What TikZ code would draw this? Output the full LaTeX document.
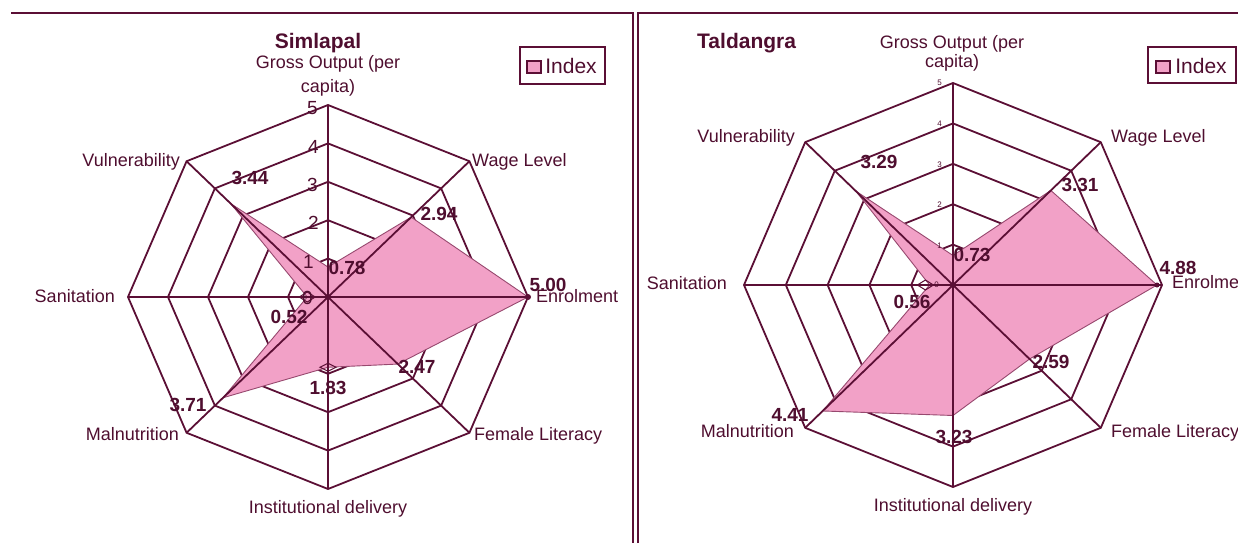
\documentclass[tikz,border=0pt]{standalone}
\usepackage{fontspec}
\setmainfont{Liberation Sans}
\definecolor{ln}{HTML}{5B0F35}
\definecolor{tx}{HTML}{4F0E2F}
\definecolor{pk}{HTML}{F2A1C7}
\tikzset{
  ringline/.style={draw=ln, line width=1.8pt, line join=miter},
  spoke/.style={draw=ln, line width=1.8pt},
  datafill/.style={fill=pk, draw=ln!60!pk, line width=0.9pt, line join=miter},
  mk/.style={draw=ln, line width=1pt},
  framel/.style={draw=ln, line width=2pt},
  catlbl/.style={text=tx, font=\fontsize{18}{20}\selectfont, inner sep=0pt, text height=13pt, text depth=4pt},
  vallbl/.style={text=tx, font=\bfseries\fontsize{19}{21}\selectfont, inner sep=0pt},
  titlelbl/.style={text=tx, font=\bfseries\fontsize{21}{23}\selectfont, inner sep=0pt, text height=15pt, text depth=4pt},
  ticklbl/.style={text=tx, font=\fontsize{19}{20}\selectfont, inner sep=0pt},
  tinylbl/.style={text=tx, font=\fontsize{8}{9}\selectfont, inner sep=0pt},
  legbox/.style={draw=ln, line width=2pt},
  legkey/.style={fill=pk, draw=ln, line width=1.5pt},
  leglbl/.style={text=tx, font=\fontsize{21}{23}\selectfont, inner sep=0pt},
}
\begin{document}
\begin{tikzpicture}[x=1pt,y=-1pt]
\useasboundingbox (0,0) rectangle (1238,543);
% panel frames
\draw[framel] (11,13) -- (633,13) -- (633,543);
\draw[framel] (638,543) -- (638,13) -- (1238,13);

% ---------- Left chart: Simlapal ----------
\begin{scope}[shift={(328,297)}, x=40pt, y=38.4pt]
  \foreach \r in {1,...,5}
    \draw[ringline] (90:\r) -- (45:\r) -- (0:\r) -- (-45:\r) -- (-90:\r) -- (-135:\r) -- (180:\r) -- (135:\r) -- cycle;
  \filldraw[datafill] (90:0.78) -- (45:2.94) -- (0:5.00) -- (-45:2.47) -- (-90:1.83) -- (-135:3.71) -- (180:0.52) -- (135:3.44) -- cycle;
  \foreach \a in {0,45,...,315}
    \draw[spoke] (0,0) -- (\a:5);
  \fill[ln] (0,0) circle[radius=3pt];
  \fill[ln] (0:5) circle[radius=3pt];
  \draw[mk] (180:0.52) ++(-8pt,0) -- ++(8pt,5pt) -- ++(8pt,-5pt) -- ++(-8pt,-5pt) -- cycle;
  \draw[mk] (-90:1.83) ++(-8pt,0) -- ++(8pt,4pt) -- ++(8pt,-4pt) -- ++(-8pt,-4pt) -- cycle;
\end{scope}
\node[titlelbl] (tL) at (318,43) {Simlapal};
\node[catlbl] (gL1) at (328,64) {Gross Output (per};
\node[catlbl] (gL2) at (328,88) {capita)};
\node[catlbl, anchor=east] (vL) at (180,162) {Vulnerability};
\node[catlbl, anchor=west] (wL) at (472,162) {Wage Level};
\node[catlbl, anchor=east] (sL) at (115,298) {Sanitation};
\node[catlbl, anchor=west] (eL) at (536,298) {Enrolment};
\node[catlbl, anchor=east] (mL) at (179,436) {Malnutrition};
\node[catlbl, anchor=west] (fL) at (474,436) {Female Literacy};
\node[catlbl] (iL) at (328,509) {Institutional delivery};
% ticks
\node[ticklbl, anchor=east] (k5L) at (318,108) {5};
\node[ticklbl, anchor=east] (k4L) at (319,147) {4};
\node[ticklbl, anchor=east] (k3L) at (318,185) {3};
\node[ticklbl, anchor=east] (k2L) at (319,223) {2};
\node[ticklbl, anchor=east] (k1L) at (314,262) {1};
\node[ticklbl, anchor=east] (k0L) at (313,298) {0};
% values
\node[vallbl] (aL) at (347,268) {0.78};
\node[vallbl] (bL) at (439,214) {2.94};
\node[vallbl] (cL) at (548,285) {5.00};
\node[vallbl] (dL) at (417,367) {2.47};
\node[vallbl] (eeL) at (328,388) {1.83};
\node[vallbl] (fvL) at (188,405) {3.71};
\node[vallbl] (gvL) at (289,317) {0.52};
\node[vallbl] (hL) at (250,178) {3.44};
% legend
\draw[legbox] (520,47) rectangle (605,84);
\filldraw[legkey] (527,61) rectangle (541,73);
\node[leglbl] (lgL) at (571,66) {Index};

% ---------- Right chart: Taldangra ----------
\begin{scope}[shift={(953,285)}, x=41.8pt, y=40.4pt]
  \foreach \r in {1,...,5}
    \draw[ringline] (90:\r) -- (45:\r) -- (0:\r) -- (-45:\r) -- (-90:\r) -- (-135:\r) -- (180:\r) -- (135:\r) -- cycle;
  \filldraw[datafill] (90:0.73) -- (45:3.31) -- (0:4.88) -- (-45:2.59) -- (-90:3.23) -- (-135:4.41) -- (180:0.56) -- (135:3.29) -- cycle;
  \foreach \a in {0,45,...,315}
    \draw[spoke] (0,0) -- (\a:5);
  \fill[ln] (0,0) circle[radius=3pt];
  \fill[ln] (0:4.88) circle[radius=2.5pt];
  \draw[mk] (180:0.66) ++(-8pt,0) -- ++(8pt,5pt) -- ++(8pt,-5pt) -- ++(-8pt,-5pt) -- cycle;
\end{scope}
\node[titlelbl, anchor=west] (tR) at (697,43) {Taldangra};
\node[catlbl] (gR1) at (952,44) {Gross Output (per};
\node[catlbl] (gR2) at (952,63) {capita)};
\node[catlbl, anchor=east] (vR) at (795,138) {Vulnerability};
\node[catlbl, anchor=west] (wR) at (1111,138) {Wage Level};
\node[catlbl, anchor=east] (sR) at (727,285) {Sanitation};
\node[catlbl, anchor=west] (eR) at (1172,284) {Enrolment};
\node[catlbl, anchor=east] (mR) at (794,433) {Malnutrition};
\node[catlbl, anchor=west] (fR) at (1111,433) {Female Literacy};
\node[catlbl] (iR) at (953,507) {Institutional delivery};
% tiny ticks
\node[tinylbl, anchor=east] (k5R) at (942,83) {5};
\node[tinylbl, anchor=east] (k4R) at (942,124) {4};
\node[tinylbl, anchor=east] (k3R) at (942,165) {3};
\node[tinylbl, anchor=east] (k2R) at (942,205) {2};
\node[tinylbl, anchor=east] (k1R) at (942,246) {1};
\node[tinylbl, anchor=east] (k0R) at (939,285) {0};
% values
\node[vallbl] (aR) at (972,255) {0.73};
\node[vallbl] (bR) at (1080,185) {3.31};
\node[vallbl] (cR) at (1178,268) {4.88};
\node[vallbl] (dR) at (1051,362) {2.59};
\node[vallbl] (eeR) at (954,437) {3.23};
\node[vallbl] (fvR) at (790,415) {4.41};
\node[vallbl] (gvR) at (912,302) {0.56};
\node[vallbl] (hR) at (879,162) {3.29};
% legend
\draw[legbox] (1148,47) rectangle (1236,83);
\filldraw[legkey] (1156,61) rectangle (1170,73);
\node[leglbl] (lgR) at (1201,66) {Index};
\end{tikzpicture}
\end{document}
